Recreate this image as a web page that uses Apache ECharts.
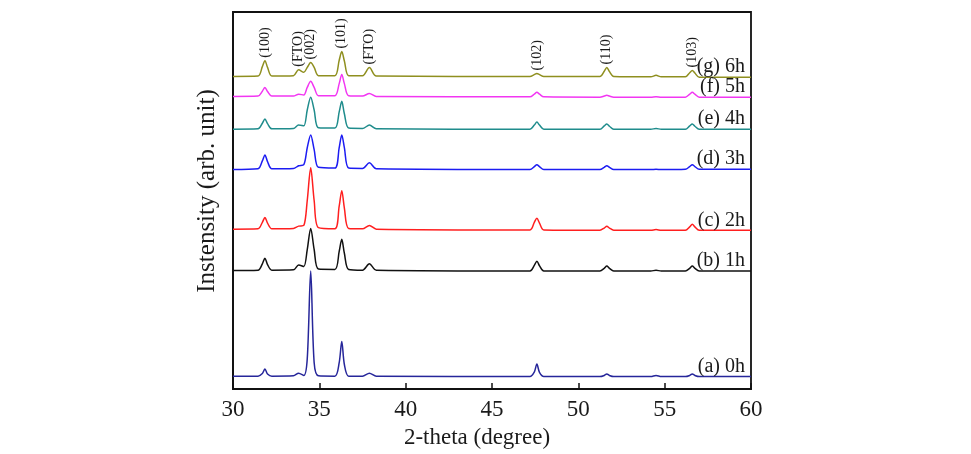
<!DOCTYPE html>
<html>
<head>
<meta charset="utf-8">
<title>XRD patterns</title>
<script src="https://cdn.jsdelivr.net/npm/echarts/dist/echarts.min.js"></script>
<style>
  html, body { margin: 0; padding: 0; background: #fff; }
  #main { width: 971px; height: 454px; }
</style>
</head>
<body>
<div id="main"></div>
<script>
// 2-theta positions (degree) shared by every pattern
const twoTheta = [
  30,
  31.45, 31.7, 31.85, 32.0, 32.25,
  33.5, 33.8, 34.1,
  34.3, 34.5, 34.7, 34.95,
  35.9, 36.15, 36.3, 36.45, 36.7,
  37.5, 37.9, 38.3,
  47.2, 47.45, 47.6, 47.75, 48.0,
  51.25, 51.5, 51.65, 51.8, 52.05,
  54.2, 54.5, 54.8,
  56.2, 56.45, 56.6, 56.75, 57.0,
  60
]

// intensities, already stacked (arb. unit)
const h0 = [
  3.4,
  3.4, 4.1, 5.3, 4.0, 3.4,
  3.5, 4.2, 3.6,
  8, 31.3, 7, 3.5,
  3.4, 7, 12.6, 6.5, 3.4,
  3.4, 4.2, 3.4,
  3.3, 4.5, 6.6, 4.4, 3.3,
  3.3, 3.6, 4.0, 3.6, 3.3,
  3.3, 3.6, 3.3,
  3.3, 3.6, 4.0, 3.6, 3.3,
  3.3
]
const h1 = [
  31.4,
  31.5, 33.2, 34.7, 33.0, 31.5,
  31.6, 32.9, 32.5,
  37, 42.6, 37, 31.8,
  31.7, 36.5, 39.7, 36, 31.7,
  31.5, 33.2, 31.5,
  31.3, 32.8, 33.9, 32.7, 31.3,
  31.3, 32.0, 32.6, 32.0, 31.3,
  31.3, 31.5, 31.3,
  31.3, 32.0, 32.6, 32.0, 31.3,
  31.3
]
const h2 = [
  42.4,
  42.5, 44.2, 45.5, 44.0, 42.5,
  42.6, 43.2, 43.4,
  50, 58.7, 50, 42.8,
  42.5, 48.5, 52.6, 48, 42.6,
  42.5, 43.4, 42.4,
  42.2, 44.2, 45.3, 44.0, 42.2,
  42.1, 42.7, 43.2, 42.7, 42.1,
  42.1, 42.3, 42.1,
  42.1, 43.0, 43.7, 43.0, 42.1,
  42.1
]
const h3 = [
  58.2,
  58.4, 60.5, 62.1, 60.3, 58.4,
  58.5, 59.2, 59.5,
  64, 67.4, 63.5, 58.8,
  58.6, 64, 67.4, 64, 58.6,
  58.5, 60.0, 58.4,
  58.2, 59.0, 59.5, 59.0, 58.2,
  58.2, 58.8, 59.2, 58.8, 58.2,
  58.2, 58.3, 58.2,
  58.3, 59.0, 59.5, 59.0, 58.3,
  58.3
]
const h4 = [
  68.9,
  69.0, 70.5, 71.6, 70.4, 69.0,
  69.1, 70.0, 69.8,
  74, 77.4, 74, 69.3,
  69.2, 73.5, 76.3, 73, 69.2,
  69.1, 70.0, 69.0,
  68.9, 70.0, 70.8, 70.0, 68.9,
  68.9, 69.8, 70.3, 69.7, 68.9,
  68.9, 69.1, 68.9,
  68.9, 69.8, 70.3, 69.7, 68.9,
  68.9
]
const h5 = [
  77.6,
  77.7, 79.0, 80.0, 78.9, 77.7,
  77.7, 78.2, 78.0,
  80.0, 81.6, 80.0, 77.8,
  77.8, 81.0, 83.4, 81.0, 77.8,
  77.7, 78.4, 77.6,
  77.5, 78.2, 78.7, 78.2, 77.5,
  77.4, 77.7, 77.9, 77.7, 77.4,
  77.4, 77.5, 77.4,
  77.4, 78.2, 78.7, 78.2, 77.4,
  77.4
]
const h6 = [
  82.9,
  83.0, 85.5, 87.1, 85.3, 83.0,
  83.1, 84.7, 84.0,
  85.3, 86.6, 85.3, 83.1,
  83.1, 87.2, 89.5, 87.0, 83.1,
  83.1, 85.3, 83.0,
  82.9, 83.4, 83.7, 83.4, 82.9,
  82.9, 84.3, 85.3, 84.2, 82.9,
  82.8, 83.2, 82.8,
  82.8, 83.9, 84.5, 83.8, 82.7,
  82.7
]

const sampleNames = ['(a) 0h', '(b) 1h', '(c) 2h', '(d) 3h', '(e) 4h', '(f) 5h', '(g) 6h']
const sampleData = [h0, h1, h2, h3, h4, h5, h6]
const colors = ['#26269a', '#111111', '#ff1f1f', '#1c1cf2', '#1f8c8c', '#f236f2', '#8f8f1f']

// reflections marked above the top pattern
const peakNames = ['(100)', '(FTO)', '(002)', '(101)', '(FTO)', '(102)', '(110)', '(103)']
const peakPos = [31.85, 33.8, 34.5, 36.3, 37.9, 47.6, 51.65, 56.6]

const font = '"Liberation Serif", "Times New Roman", serif'

const myChart = echarts.init(document.getElementById('main'))

const series = sampleData.map((ys, i) => {
  return {
    name: sampleNames[i],
    type: 'line',
    data: twoTheta.map((x, j) => [x, ys[j]]),
    symbol: 'none',
    smooth: 0.3,
    lineStyle: { color: colors[i], width: 1.5 },
    z: 3,
    markPoint: {
      symbol: 'circle',
      symbolSize: 0,
      silent: true,
      data: [{
        coord: [60, ys[ys.length - 1]],
        label: {
          show: true,
          formatter: sampleNames[i],
          position: 'left',
          distance: 6,
          offset: [0, -10],
          color: '#1a1a1a',
          fontFamily: font,
          fontSize: 20
        }
      }]
    }
  }
})

// peak labels sit on the top pattern
const topData = sampleData[sampleData.length - 1]
const topSeries = series[series.length - 1]
topSeries.markPoint.data = topSeries.markPoint.data.concat(
  peakPos.map((p, k) => ({
    coord: [p, topData[twoTheta.indexOf(p)]],
    label: {
      show: true,
      formatter: peakNames[k],
      position: 'top',
      rotate: 90,
      align: 'left',
      verticalAlign: 'middle',
      distance: 3,
      color: '#1a1a1a',
      fontFamily: font,
      fontSize: 14
    }
  }))
)

const option = {
  animation: false,
  backgroundColor: '#fff',
  grid: {
    left: 233,
    right: 220,
    top: 12,
    bottom: 62,
    show: true,
    borderColor: '#111',
    borderWidth: 1.8
  },
  xAxis: {
    type: 'value',
    min: 30,
    max: 60,
    interval: 5,
    name: '2-theta (degree)',
    nameLocation: 'middle',
    nameGap: 37,
    nameTextStyle: { fontFamily: font, fontSize: 23, color: '#1a1a1a', padding: [0, 30, 0, 0] },
    axisLine: { lineStyle: { color: '#111', width: 1.8 } },
    axisTick: { inside: true, length: 6, lineStyle: { color: '#111', width: 1.5 } },
    axisLabel: { fontFamily: font, fontSize: 23, color: '#1a1a1a', margin: 9 },
    splitLine: { show: false }
  },
  yAxis: {
    type: 'value',
    min: 0,
    max: 100,
    name: 'Instensity (arb. unit)',
    nameLocation: 'middle',
    nameGap: 13,
    nameTextStyle: { fontFamily: font, fontSize: 25, color: '#1a1a1a', padding: [0, 0, 0, 19] },
    axisLine: { show: true, lineStyle: { color: '#111', width: 1.8 } },
    axisTick: { show: false },
    axisLabel: { show: false },
    splitLine: { show: false }
  },
  series: series
}
myChart.setOption(option)
</script>
</body>
</html>
